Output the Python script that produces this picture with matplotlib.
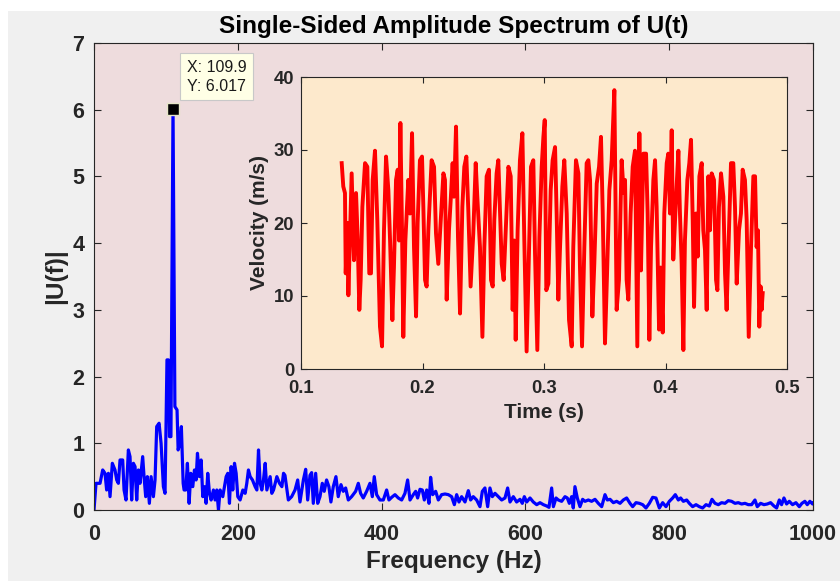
import matplotlib
matplotlib.use("Agg")
import matplotlib.pyplot as plt
from matplotlib.patches import Rectangle

plt.rcParams['font.family'] = ['Liberation Sans', 'DejaVu Sans']

# ---------------- data ----------------
freq_hz = [
    0, 2.8, 8.4, 12.1, 15.3, 17.6, 20.0, 22.3, 25.5, 29.2,
    31.6, 33.9, 36.2, 39.9, 41.8, 44.5, 47.8, 50.1, 52.4, 54.8,
    57.1, 59.4, 61.7, 64.0, 67.7, 69.6, 71.9, 74.2, 77.0, 79.4,
    82.6, 84.9, 87.2, 90.5, 93.3, 96.5, 98.8, 101.5, 103.5, 105.0,
    107.0, 109.9, 112.5, 115.5, 117.0, 119.5, 121.5, 124.0, 125.3, 127.6,
    129.9, 132.3, 134.6, 137.4, 139.7, 142.0, 143.9, 146.6, 149.0, 151.3,
    153.6, 155.9, 158.2, 160.6, 162.9, 166.1, 168.4, 170.8, 173.1, 175.4,
    179.1, 181.4, 183.8, 186.1, 188.4, 190.7, 193.0, 195.4, 197.7, 200.0,
    203.2, 207.0, 210.2, 212.5, 214.8, 217.2, 220.4, 224.1, 226.5, 228.8,
    231.1, 233.4, 235.7, 238.1, 240.4, 242.7, 245.0, 247.3, 249.7, 254.3,
    258.0, 261.3, 263.6,
    265.6, 270.3, 274.9, 279.6, 283.3, 286.5, 291.2, 294.4, 297.2, 300.4,
    302.7, 305.0, 308.3, 311.1, 314.3, 317.5, 320.2, 323.5, 326.7, 329.5,
    332.8, 336.5, 339.7, 343.5, 346.7, 350.0, 353.7, 358.3, 363.9, 367.6,
    370.8, 374.5, 379.2, 383.8, 387.1, 389.8, 393.1, 397.7, 402.4, 407.0,
    410.2, 414.0, 418.6, 423.2, 427.9, 432.5, 436.2, 439.5, 444.1, 447.4,
    450.1, 453.4, 456.6, 459.4, 462.7, 465.9, 468.2, 471.0, 475.2, 478.9,
    483.5, 488.2, 492.8, 497.4, 501.2, 504.4, 507.6, 511.3, 516.0, 520.6,
    523.8, 527.5, 532.2, 536.8, 540.1, 543.7, 547.5, 550.7, 554.0, 557.7,
    562.3, 567.0, 571.6, 575.3, 578.6, 583.2, 587.8, 592.5, 595.7, 598.5,
    601.8, 606.4, 611.0, 615.7, 620.3, 625.0, 629.6, 632.8, 636.5,
    638.9, 642.6, 645.8, 650.4, 655.1, 658.3, 661.1, 664.3, 666.6, 668.9,
    672.2, 675.9, 679.6, 682.9, 687.5, 692.1, 696.8, 701.4, 706.1, 710.7,
    713.9, 717.7, 722.3, 726.9, 731.6, 736.2, 740.8, 745.5, 749.2, 753.8,
    758.5, 763.1, 767.7, 772.4, 777.0, 781.6, 786.3, 790.9, 795.5, 800.2,
    804.8, 808.5, 812.7, 815.9, 819.7, 824.3, 828.0, 832.6, 837.3, 841.9,
    846.5, 851.2, 855.8, 859.5, 863.7, 868.3, 872.9, 877.6, 882.2, 886.8,
    891.5, 896.1, 900.7, 905.4, 910.0, 914.6, 919.3, 922.5, 927.1, 931.8,
    936.4, 941.0, 945.7, 949.4, 953.1, 956.3, 959.6, 963.3, 967.0, 971.6,
    976.2, 980.9, 984.6, 988.7, 992.0, 995.7, 999.4, 1000.0,
]
amp_spectrum = [
    0, 0.4, 0.4, 0.6, 0.55, 0.3, 0.55, 0.2, 0.7, 0.6,
    0.45, 0.4, 0.75, 0.75, 0.3, 0.15, 0.9, 0.8, 0.15, 0.7,
    0.65, 0.15, 0.6, 0.4, 0.8, 0.5, 0.2, 0.5, 0.1, 0.5,
    0.2, 0.45, 1.25, 1.3, 1.0, 0.35, 0.25, 2.25, 2.25, 1.1,
    1.1, 6.017, 1.55, 1.5, 0.9, 1.0, 1.25, 0.4, 0.3, 0.3,
    0.7, 0.1, 0.55, 0.35, 0.6, 0.45, 0.85, 0.5, 0.75, 0.2,
    0.35, 0.1, 0.55, 0.25, 0.15, 0.3, 0.15, 0.3, 0.0, 0.3,
    0.2, 0.35, 0.5, 0.55, 0.1, 0.65, 0.3, 0.7, 0.55, 0.2,
    0.15, 0.3, 0.25, 0.4, 0.6, 0.5, 0.45, 0.35, 0.3, 0.9,
    0.4, 0.3, 0.45, 0.7, 0.3, 0.4, 0.5, 0.25, 0.3, 0.5,
    0.4, 0.35, 0.55,
    0.52, 0.15, 0.2, 0.3, 0.45, 0.12, 0.45, 0.61, 0.15, 0.52,
    0.56, 0.1, 0.55, 0.1, 0.2, 0.4, 0.28, 0.45, 0.35, 0.12,
    0.35, 0.5, 0.2, 0.38, 0.28, 0.33, 0.15, 0.2, 0.28, 0.4,
    0.25, 0.18, 0.28, 0.4, 0.2, 0.5, 0.23, 0.15, 0.15, 0.3,
    0.15, 0.19, 0.23, 0.18, 0.15, 0.25, 0.45, 0.15, 0.23, 0.28,
    0.18, 0.31, 0.3, 0.15, 0.3, 0.1, 0.49, 0.23, 0.28, 0.15,
    0.23, 0.24, 0.23, 0.2, 0.08, 0.23, 0.12, 0.2, 0.12, 0.29,
    0.15, 0.2, 0.15, 0.05, 0.28, 0.33, 0.05, 0.33, 0.2, 0.25,
    0.2, 0.15, 0.18, 0.33, 0.12, 0.2, 0.12, 0.16, 0.1, 0.2,
    0.12, 0.18, 0.12, 0.08, 0.11, 0.08, 0.06, 0.04, 0.33,
    0.05, 0.18, 0.15, 0.13, 0.2, 0.18, 0.1, 0.2, 0.03, 0.35,
    0.18, 0.05, 0.16, 0.13, 0.15, 0.13, 0.16, 0.1, 0.05, 0.23,
    0.15, 0.16, 0.11, 0.13, 0.1, 0.15, 0.18, 0.1, 0.05, 0.11,
    0.1, 0.08, 0.03, 0.1, 0.19, 0.18, 0.03, 0.11, 0.05, 0.13,
    0.18, 0.23, 0.15, 0.18, 0.13, 0.15, 0.1, 0.05, 0.08, 0.05,
    0.03, 0.08, 0.06, 0.16, 0.1, 0.08, 0.11, 0.1, 0.14, 0.13,
    0.1, 0.11, 0.09, 0.1, 0.08, 0.08, 0.15, 0.05, 0.1, 0.08,
    0.09, 0.11, 0.06, 0.03, 0.15, 0.08, 0.18, 0.09, 0.13, 0.08,
    0.11, 0.05, 0.1, 0.13, 0.08, 0.13, 0.09, 0.1,
]

peak_freq = [109.9]
peak_amp = [6.017]

time_s = [
    0.1335, 0.1348, 0.1362, 0.1368, 0.1381, 0.1390, 0.1403, 0.1417, 0.1436, 0.1453,
    0.1466, 0.1480, 0.1491, 0.1505, 0.1527, 0.1546, 0.1562, 0.1576, 0.1590, 0.1609,
    0.1628, 0.1650, 0.1667, 0.1683, 0.1700, 0.1719, 0.1733, 0.1752, 0.1765, 0.1782,
    0.1796, 0.1807, 0.1818, 0.1831, 0.1842, 0.1859, 0.1883, 0.1897, 0.1914, 0.1930,
    0.1947, 0.1960, 0.1979, 0.1996, 0.2007, 0.2021, 0.2034, 0.2048, 0.2075, 0.2095,
    0.2111, 0.2130, 0.2150, 0.2172, 0.2185, 0.2199, 0.2218, 0.2232, 0.2248, 0.2259,
    0.2276, 0.2292, 0.2309, 0.2328, 0.2344, 0.2361, 0.2377, 0.2396, 0.2418, 0.2438,
    0.2451,
    0.2473, 0.2493, 0.2509, 0.2528, 0.2547, 0.2564, 0.2578, 0.2591, 0.2610, 0.2624,
    0.2638, 0.2652, 0.2668, 0.2685, 0.2707, 0.2726, 0.2742, 0.2756, 0.2767, 0.2783,
    0.2802, 0.2822, 0.2838, 0.2857, 0.2877, 0.2893, 0.2912, 0.2926, 0.2945, 0.2962,
    0.2981, 0.2995, 0.3006, 0.3019, 0.3036, 0.3055, 0.3071, 0.3091, 0.3104, 0.3118,
    0.3132, 0.3151, 0.3167, 0.3187, 0.3206, 0.3228, 0.3241, 0.3263, 0.3283, 0.3296,
    0.3313, 0.3332, 0.3351, 0.3365, 0.3379, 0.3398, 0.3414, 0.3434, 0.3453, 0.3469,
    0.3483, 0.3502, 0.3519, 0.3538, 0.3557, 0.3579, 0.3598, 0.3617, 0.3639, 0.3656,
    0.3667, 0.3680, 0.3694, 0.3713, 0.3730, 0.3749, 0.3768, 0.3785, 0.3798, 0.3818,
    0.3840, 0.3853, 0.3867, 0.3881, 0.3900, 0.3914, 0.3927, 0.3947, 0.3960, 0.3977,
    0.3990, 0.4010, 0.4023, 0.4037, 0.4051, 0.4064, 0.4086, 0.4106, 0.4119, 0.4133,
    0.4147, 0.4160, 0.4180, 0.4196, 0.4210, 0.4224, 0.4235, 0.4251, 0.4265, 0.4279,
    0.4298, 0.4311, 0.4325, 0.4339, 0.4353, 0.4366, 0.4380, 0.4399, 0.4416, 0.4427,
    0.4440, 0.4457, 0.4476, 0.4490, 0.4503, 0.4523, 0.4539, 0.4558, 0.4572, 0.4586,
    0.4605, 0.4621, 0.4635, 0.4654, 0.4668, 0.4685, 0.4704, 0.4723, 0.4737, 0.4750,
    0.4761, 0.4772, 0.4783, 0.4791, 0.4800,
]
velocity_ms = [
    28.2, 25.0, 24.1, 13.1, 20.0, 10.1, 18.1, 26.8, 14.9, 24.1,
    18.1, 8.1, 12.2, 22.2, 28.2, 27.7, 13.1, 13.1, 25.9, 29.9,
    20.4, 5.8, 3.1, 19.0, 29.1, 24.5, 17.6, 6.7, 13.9, 25.9,
    27.3, 17.6, 33.7, 19.5, 4.4, 17.6, 25.9, 21.3, 32.3, 16.7,
    7.2, 20.0, 28.6, 29.1, 22.2, 12.2, 11.3, 19.0, 28.6, 27.7,
    18.6, 14.4, 20.4, 26.8, 25.9, 9.5, 19.0, 23.1, 28.2, 23.6,
    33.2, 18.1, 7.6, 22.2, 27.7, 29.1, 21.7, 11.3, 18.6, 28.2,
    23.6,
    16.7, 4.4, 16.7, 26.4, 27.3, 12.2, 11.3, 20.4, 26.8, 28.6,
    21.3, 14.4, 12.2, 19.0, 27.7, 26.4, 8.1, 17.6, 4.0, 19.0,
    28.6, 32.3, 17.6, 2.4, 16.7, 27.7, 28.6, 15.8, 2.6, 18.1,
    27.7, 31.8, 34.1, 10.8, 11.7, 24.5, 28.6, 30.4, 21.3, 9.5,
    16.7, 25.0, 28.6, 21.3, 6.7, 3.1, 16.7, 28.6, 26.8, 13.9,
    3.1, 16.7, 28.2, 28.6, 25.9, 7.2, 14.4, 25.4, 27.7, 31.8,
    21.7, 3.5, 13.1, 24.5, 28.6, 38.2, 8.1, 12.2, 28.6, 24.1,
    25.9, 12.2, 9.5, 21.3, 27.7, 29.9, 3.1, 32.3, 13.5, 29.5,
    29.5, 21.3, 4.0, 16.7, 25.9, 28.6, 22.2, 5.4, 13.9, 5.0,
    21.3, 28.2, 29.5, 21.3, 32.7, 15.0, 23.1, 29.9, 21.3, 14.4,
    2.6, 17.6, 25.9, 28.2, 31.4, 20.4, 8.5, 21.3, 15.4, 26.4,
    28.2, 19.0, 16.3, 8.1, 26.4, 19.0, 26.8, 25.9, 12.2, 10.8,
    22.2, 26.8, 23.6, 13.1, 8.1, 19.0, 28.2, 28.2, 22.2, 11.7,
    19.0, 21.3, 27.3, 25.9, 20.4, 4.4, 16.7, 26.4, 26.4, 16.7,
    19.0, 5.8, 11.3, 8.1, 10.4,
]

main_xticks = [0, 200, 400, 600, 800, 1000]
main_yticks = [0, 1, 2, 3, 4, 5, 6, 7]
inset_xticks = [0.1, 0.2, 0.3, 0.4, 0.5]
inset_yticks = [0, 10, 20, 30, 40]

n1 = min(len(freq_hz), len(amp_spectrum))
n2 = min(len(time_s), len(velocity_ms))

# ---------------- figure ----------------
W, H = 840, 581
fig = plt.figure(figsize=(W / 100, H / 100), dpi=100, facecolor='#f0f0f0')
fig.add_artist(Rectangle((0, 1 - 11 / H), 1, 11 / H, transform=fig.transFigure,
                         facecolor='white', edgecolor='none', zorder=-5))
fig.add_artist(Rectangle((0, 0), 8 / W, 1, transform=fig.transFigure,
                         facecolor='white', edgecolor='none', zorder=-5))

axcol = '#262626'

ax = fig.add_axes([94 / W, 71 / H, 719 / W, 467 / H])
ax.set_facecolor('#eedcdd')
ax.plot(freq_hz[:n1], amp_spectrum[:n1], color='#0000ff', lw=2.3, solid_joinstyle='round')
ax.plot(peak_freq, peak_amp, linestyle='none', marker='s', ms=8,
        mfc='black', mec='#e6e6c8', mew=1.0, zorder=5)
ax.annotate(f'X: {peak_freq[0]}\nY: {peak_amp[0]}', xy=(peak_freq[0], peak_amp[0]),
            xytext=(14, 15), textcoords='offset pixels', ha='left', va='bottom',
            fontsize=11.5, color='#1a1a1a', linespacing=1.3,
            bbox=dict(boxstyle='square,pad=0.42', fc='#ffffe6', ec='#c8c8c8', lw=0.8),
            zorder=6)
ax.set_xlim(0, 1000)
ax.set_ylim(0, 7)
ax.set_xticks(main_xticks)
ax.set_yticks(main_yticks)
ax.tick_params(direction='in', length=5, width=0.8, top=True, right=True,
               labelsize=15.5, colors=axcol)
ax.tick_params(axis='x', pad=10)
ax.tick_params(axis='y', pad=7)
for lbl in ax.get_xticklabels() + ax.get_yticklabels():
    lbl.set_fontweight('bold')
for s in ax.spines.values():
    s.set_color(axcol)
    s.set_linewidth(0.8)
ax.set_xlabel('Frequency (Hz)', fontsize=17.5, fontweight='bold', color=axcol, labelpad=4)
ax.set_ylabel('|U(f)|', fontsize=17.5, fontweight='bold', color=axcol, labelpad=4)
ax.set_title('Single-Sided Amplitude Spectrum of U(t)', fontsize=17.5,
             fontweight='bold', color='black', pad=7)

ax2 = fig.add_axes([301 / W, 212 / H, 486 / W, 292 / H])
ax2.set_facecolor('#fde9cc')
ax2.plot(time_s[:n2], velocity_ms[:n2], color='#ff0000', lw=2.8, solid_joinstyle='round')
ax2.set_xlim(0.1, 0.5)
ax2.set_ylim(0, 40)
ax2.set_xticks(inset_xticks)
ax2.set_yticks(inset_yticks)
ax2.set_xticklabels([f'{v:.1f}' for v in inset_xticks])
ax2.tick_params(direction='in', length=4, width=0.8, top=True, right=True,
                labelsize=13.3, colors=axcol)
ax2.tick_params(axis='x', pad=8)
ax2.tick_params(axis='y', pad=5)
for lbl in ax2.get_xticklabels() + ax2.get_yticklabels():
    lbl.set_fontweight('bold')
for s in ax2.spines.values():
    s.set_color(axcol)
    s.set_linewidth(0.8)
ax2.set_xlabel('Time (s)', fontsize=15, fontweight='bold', color=axcol, labelpad=4)
ax2.set_ylabel('Velocity (m/s)', fontsize=15, fontweight='bold', color=axcol, labelpad=3)

fig.savefig('out.png', dpi=100, facecolor=fig.get_facecolor())
